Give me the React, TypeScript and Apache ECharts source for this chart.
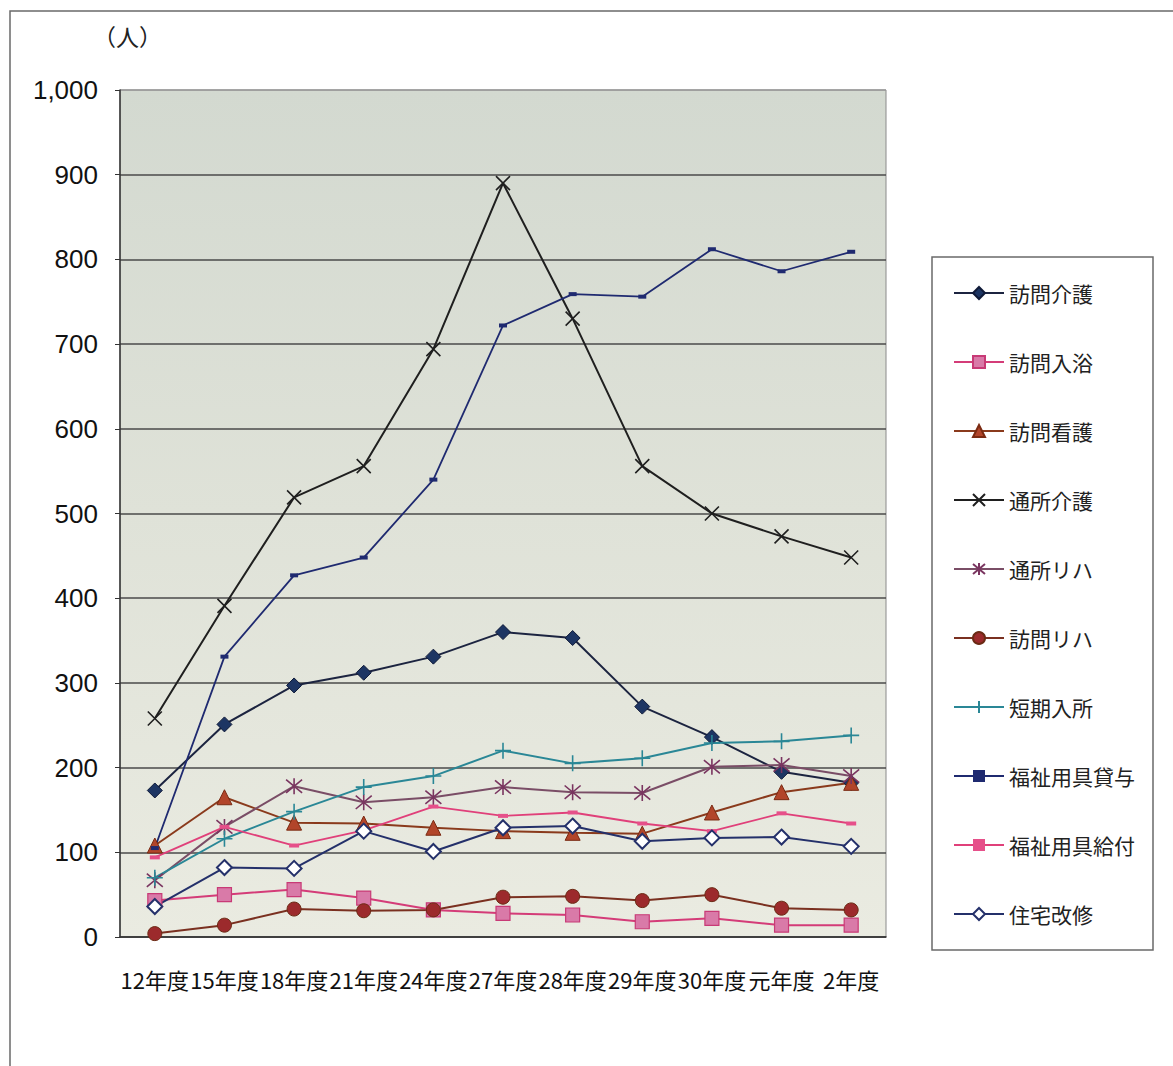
import React, { useEffect, useRef } from "react";
import * as echarts from "echarts";

const categories = ["12年度", "15年度", "18年度", "21年度", "24年度", "27年度", "28年度", "29年度", "30年度", "元年度", "2年度"];
const yTicks = [0, 100, 200, 300, 400, 500, 600, 700, 800, 900, 1000];

const houmonKaigo = [173, 251, 297, 312, 331, 360, 353, 272, 236, 195, 182];
const houmonNyuyoku = [43, 50, 56, 46, 32, 28, 26, 18, 22, 14, 14];
const houmonKango = [108, 165, 135, 134, 129, 125, 123, 122, 147, 171, 182];
const tsushoKaigo = [258, 391, 519, 556, 694, 890, 730, 556, 500, 473, 448];
const tsushoReha = [67, 130, 178, 159, 165, 177, 171, 170, 201, 203, 190];
const houmonReha = [4, 14, 33, 31, 32, 47, 48, 43, 50, 34, 32];
const tankiNyusho = [70, 116, 148, 177, 190, 220, 205, 211, 229, 231, 238];
const fukushiTaiyo = [105, 331, 427, 448, 540, 722, 759, 756, 812, 786, 809];
const fukushiKyufu = [94, 130, 108, 126, 154, 143, 147, 134, 125, 146, 134];
const jutakuKaishu = [36, 82, 81, 125, 101, 129, 131, 113, 117, 118, 107];

const FONT = "'Noto Sans CJK JP', sans-serif";

function mk(name: string, data: number[], line: string, symbol: any, size: any, fill: string, border: string, bw: number, lw = 2) {
  return {
    name,
    type: "line",
    data,
    symbol,
    symbolSize: size,
    showSymbol: true,
    lineStyle: { color: line, width: lw },
    itemStyle: { color: fill, borderColor: border, borderWidth: bw },
    emphasis: { disabled: true },
  };
}

export default function App() {
  const ref = useRef<HTMLDivElement>(null);
  useEffect(() => {
    if (!ref.current) return;
    const chart = echarts.init(ref.current, null, { renderer: "svg" });
    const X = "path://M0,0L10,10M10,0L0,10";
    const AST = "path://M0,0L10,10M10,0L0,10M5,-1L5,11";
    const PLUS = "path://M5,0L5,10M0,5L10,5";
    const splitColors = yTicks.map((v) => (v === 1000 ? "#9a9a9a" : "#4a4a4a"));
    chart.setOption({
      animation: false,
      graphic: [
        { type: "rect", z: -10, shape: { x: 10, y: 11, width: 1300, height: 1200 }, style: { fill: "#fff", stroke: "#6a6a6a", lineWidth: 1.5 } },
        { type: "text", x: 93, y: 24, style: { text: "（人）", font: `23px ${FONT}`, fill: "#222" } },
        { type: "rect", shape: { x: 932, y: 257, width: 221, height: 693 }, style: { fill: "#fff", stroke: "#6a6a6a", lineWidth: 1.5 }, z: 1 },
      ],
      grid: {
        left: 120,
        top: 90,
        right: 287,
        bottom: 129,
        show: true,
        borderColor: "#8a8a8a",
        borderWidth: 1,
        backgroundColor: new echarts.graphic.LinearGradient(0, 0, 0, 1, [
          { offset: 0, color: "#d3d9d0" },
          { offset: 0.5, color: "#dfe2d8" },
          { offset: 1, color: "#eaebe1" },
        ]),
      },
      legend: {
        orient: "vertical",
        left: 948,
        top: 277,
        itemWidth: 50,
        itemHeight: 15,
        itemGap: 47,
        z: 5,
        textStyle: { fontFamily: FONT, fontSize: 21, color: "#222", lineHeight: 22 },
        data: ["訪問介護", "訪問入浴", "訪問看護", "通所介護", "通所リハ", "訪問リハ", "短期入所", "福祉用具貸与", "福祉用具給付", "住宅改修"],
      },
      xAxis: {
        type: "category",
        data: categories,
        boundaryGap: true,
        axisLine: { lineStyle: { color: "#333", width: 1.5 } },
        axisTick: { inside: true, length: 8, lineStyle: { color: "#333", width: 1.5 } },
        axisLabel: { interval: 0, margin: 31, fontSize: 22, color: "#111", fontFamily: FONT },
      },
      yAxis: {
        type: "value",
        min: 0,
        max: 1000,
        interval: 100,
        axisLine: { show: true, lineStyle: { color: "#333", width: 1.5 } },
        axisTick: { show: true, length: 5, lineStyle: { color: "#333" } },
        axisLabel: {
          margin: 22,
          fontSize: 26,
          color: "#111",
          fontFamily: "'Liberation Sans', Arial, sans-serif",
          formatter: (v: number) => v.toLocaleString("en-US"),
        },
        splitLine: { show: true, lineStyle: { color: splitColors, width: 1.5 } },
      },
      series: [
        mk("訪問介護", houmonKaigo, "#1c2440", "diamond", 15, "#1d3563", "#101a38", 1),
        mk("訪問入浴", houmonNyuyoku, "#d43c78", "rect", 14, "#d97aa8", "#c83a76", 1.2),
        mk("訪問看護", houmonKango, "#8a3a1c", "triangle", 15, "#b2452a", "#7a2a12", 1),
        mk("通所介護", tsushoKaigo, "#1f1f1f", X, 14, "#1f1f1f", "#1f1f1f", 1.6),
        mk("通所リハ", tsushoReha, "#7a4d66", AST, 16, "#7a3560", "#7a3560", 1.6),
        mk("訪問リハ", houmonReha, "#7a3020", "circle", 14, "#9c2a2c", "#6a2a14", 1),
        mk("短期入所", tankiNyusho, "#2a8796", PLUS, 16, "#2a8796", "#2a8796", 1.6),
        mk("福祉用具貸与", fukushiTaiyo, "#1f2a70", "rect", [8, 4], "#1f2a70", "#1f2a70", 0, 1.8),
        mk("福祉用具給付", fukushiKyufu, "#e0407a", "rect", [10, 4], "#e6508a", "#e0407a", 0, 1.8),
        mk("住宅改修", jutakuKaishu, "#24306a", "diamond", 15, "#ffffff", "#24306a", 2),
      ],
    });
    return () => chart.dispose();
  }, []);
  return <div ref={ref} style={{ position: "absolute", left: 0, top: 0, width: 1173, height: 1066 }} />;
}
